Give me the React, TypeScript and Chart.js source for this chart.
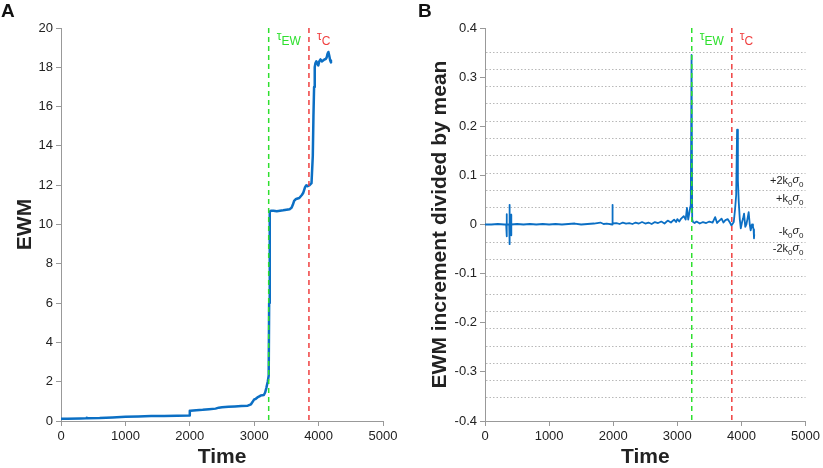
import React, { useEffect, useRef } from 'react';
import Chart from 'chart.js/auto';

// Panel A: EWM over time
const timeA = [
  0, 100, 300, 390, 400, 410, 600, 800, 1000, 1200, 1400, 1600, 1800, 1990, 2000, 2010, 2100, 2200, 2300,
  2400, 2450, 2500, 2600, 2700, 2800, 2900, 2950, 2980, 3000, 3020, 3050, 3080, 3100, 3150, 3170, 3190,
  3210, 3225, 3232, 3238, 3245, 3260, 3300, 3350, 3400, 3450, 3500, 3550, 3580, 3600, 3620, 3650, 3700,
  3740, 3760, 3790, 3810, 3830, 3860, 3890, 3910, 3920, 3930, 3940, 3950, 3965, 3980, 3995, 4010, 4030,
  4050, 4070, 4090, 4110, 4125, 4140, 4152, 4165, 4180, 4192, 4200,
];
const ewm = [
  0.12, 0.12, 0.13, 0.14, 0.17, 0.14, 0.15, 0.18, 0.21, 0.23, 0.25, 0.26, 0.27, 0.28, 0.52, 0.52, 0.55, 0.57, 0.6,
  0.63, 0.68, 0.7, 0.72, 0.74, 0.76, 0.78, 0.85, 1.0, 1.1, 1.12, 1.2, 1.25, 1.3, 1.32, 1.45, 1.7,
  2.0, 2.3, 6.0, 10.2, 10.65, 10.7, 10.7, 10.68, 10.7, 10.72, 10.75, 10.78, 10.85, 11.0, 11.2, 11.3, 11.35,
  11.5, 11.6, 11.9, 12.0, 11.95, 12.0, 12.1, 13.5, 15.5, 17.0, 18.0, 18.2, 18.3, 18.2, 18.1, 18.3, 18.4,
  18.3, 18.35, 18.4, 18.42, 18.5, 18.7, 18.78, 18.6, 18.35, 18.25, 18.22,
];

// Panel B: EWM increment divided by mean
const timeB = [
  0, 100, 200, 300, 330, 336, 339, 343, 378, 381, 384, 387, 403, 406, 409, 412, 500, 600, 700, 800, 900,
  1000, 1100, 1200, 1300, 1400, 1500, 1600, 1700, 1800, 1850, 1900, 1985, 1988, 1992, 2050, 2100, 2150,
  2200, 2250, 2300, 2350, 2400, 2450, 2500, 2550, 2600, 2650, 2700, 2750, 2800, 2850, 2900, 2950, 2980,
  3000, 3030, 3060, 3100, 3130, 3150, 3170, 3195, 3210, 3222, 3232, 3245, 3270, 3300, 3350, 3400, 3450,
  3500, 3550, 3590, 3620, 3640, 3690, 3720, 3750, 3785, 3820, 3845, 3880, 3900, 3918, 3932, 3945, 3958,
  3975, 3990, 4010, 4025, 4041, 4060, 4077, 4095, 4113, 4130, 4144, 4165, 4180, 4190, 4196, 4200,
];
const increment = [
  0, 0, 0.001, 0, 0, 0.021, -0.024, 0, 0, 0.04, -0.04, 0, 0, 0.02, -0.022, 0, 0.001, 0, 0.001, 0, 0.001,
  0, 0.001, 0, 0.001, 0.002, 0, 0.001, 0.002, 0.004, 0.001, 0.002, 0, 0.04, 0.002, 0.003, 0.001, 0.004,
  0.002, 0.003, 0.001, 0.004, 0.002, 0.005, 0.002, 0.004, 0.001, 0.005, 0.003, 0.006, 0.002, 0.008, 0.004, 0.01, 0.005,
  0.011, 0.006, 0.012, 0.017, 0.01, 0.034, 0.01, 0.03, 0.04, 0.345, 0.01, 0.005, 0.003, 0.006, 0.002, 0.005, 0.003,
  0.006, 0.004, 0.015, 0.003, 0.006, 0.012, 0.004, 0.009, 0.011, 0.004, -0.002, 0.005, 0.03, 0.06, 0.193, 0.09, 0.046,
  0.01, -0.008, 0.005, 0.012, 0.022, -0.005, 0.0, 0.012, 0.025, 0.0, -0.012, 0.0, -0.005, -0.01, -0.028, -0.02,
];

const tauTimes = [3225, 3850];
const tauNames = ['EW', 'C'];
const kSigma = 0.0352;
const kSteps = [-10, -9, -8, -7, -6, -5, -4, -3, -2, -1, 1, 2, 3, 4, 5, 6, 7, 8, 9, 10];
const kLabelPrefix = ['+2', '+', '-', '-2'];
const kLabelValues = [0.09, 0.053, -0.013, -0.048];

const FONT = '"Liberation Sans", Arial, sans-serif';
const BLUE = '#0b6fc4';
const TAU_COLORS = ['#2ee02e', '#f04040'];

const tauPlugin = {
  id: 'tauMarkers',
  afterDatasetsDraw(chart: any) {
    const { ctx, chartArea, scales } = chart;
    ctx.save();
    ctx.lineWidth = 1.5;
    ctx.setLineDash([5, 4]);
    tauTimes.forEach((t, i) => {
      const px = scales.x.getPixelForValue(t);
      ctx.strokeStyle = TAU_COLORS[i];
      ctx.beginPath();
      ctx.moveTo(px, chartArea.top);
      ctx.lineTo(px, chartArea.bottom);
      ctx.stroke();
    });
    ctx.setLineDash([]);
    ctx.textBaseline = 'alphabetic';
    ctx.textAlign = 'left';
    tauTimes.forEach((t, i) => {
      const px = scales.x.getPixelForValue(t) + 8;
      ctx.fillStyle = TAU_COLORS[i];
      ctx.font = `12px ${FONT}`;
      ctx.fillText('τ', px, chartArea.top + 12);
      const w = ctx.measureText('τ').width;
      ctx.font = `12px ${FONT}`;
      ctx.fillText(tauNames[i], px + w, chartArea.top + 17);
    });
    ctx.restore();
  },
};

const kGridPlugin = {
  id: 'kGrid',
  beforeDatasetsDraw(chart: any) {
    const { ctx, chartArea, scales } = chart;
    ctx.save();
    ctx.strokeStyle = '#b8b8b8';
    ctx.lineWidth = 1;
    ctx.setLineDash([1.5, 2]);
    kSteps.forEach((n) => {
      const py = Math.round(scales.y.getPixelForValue(n * kSigma)) + 0.5;
      ctx.beginPath();
      ctx.moveTo(chartArea.left + 1, py);
      ctx.lineTo(chartArea.right, py);
      ctx.stroke();
    });
    ctx.restore();
  },
  afterDatasetsDraw(chart: any) {
    const { ctx, chartArea, scales } = chart;
    ctx.save();
    ctx.fillStyle = '#222';
    ctx.textBaseline = 'alphabetic';
    ctx.textAlign = 'left';
    kLabelValues.forEach((v, i) => {
      const py = scales.y.getPixelForValue(v) + 4;
      const parts = [
        { t: `${kLabelPrefix[i]}k`, f: `11px ${FONT}`, dy: 0 },
        { t: '0', f: `8px ${FONT}`, dy: 3 },
        { t: 'σ', f: `italic 11px ${FONT}`, dy: -1 },
        { t: '0', f: `8px ${FONT}`, dy: 3 },
      ];
      let total = 0;
      parts.forEach((p) => {
        ctx.font = p.f;
        total += ctx.measureText(p.t).width;
      });
      let x = chartArea.right - 2 - total;
      parts.forEach((p) => {
        ctx.font = p.f;
        ctx.fillText(p.t, x, py + p.dy);
        x += ctx.measureText(p.t).width;
      });
    });
    ctx.restore();
  },
};

function axisX(width: number) {
  return {
    type: 'linear' as const,
    min: 0,
    max: 5000,
    ticks: { stepSize: 1000, color: '#222', font: { size: 13, family: FONT }, padding: 3, callback: (v: any) => String(v), maxRotation: 0 },
    grid: { drawOnChartArea: false, drawTicks: true, tickLength: 5, color: '#999' },
    border: { color: '#999' },
    title: { display: true, text: 'Time', color: '#222', font: { size: 21, weight: 'bold' as const, family: FONT, lineHeight: 1 }, padding: { top: 0, bottom: 0 } },
    afterFit: (s: any) => { s.height = width; },
  };
}

function makeChart(canvas: HTMLCanvasElement, cfg: any) {
  return new Chart(canvas, cfg);
}

export default function App() {
  const refA = useRef<HTMLCanvasElement | null>(null);
  const refB = useRef<HTMLCanvasElement | null>(null);

  useEffect(() => {
    if (!refA.current || !refB.current) return;

    const chartA = makeChart(refA.current, {
      type: 'line',
      data: {
        datasets: [{
          data: timeA.map((t, i) => ({ x: t, y: ewm[i] })),
          borderColor: BLUE,
          borderWidth: 2.5,
          pointRadius: 0,
          tension: 0,
          borderJoinStyle: 'round',
        }],
      },
      options: {
        responsive: true,
        maintainAspectRatio: false,
        animation: false,
        layout: { padding: { top: 28, right: 29, bottom: 0, left: 0 } },
        plugins: { legend: { display: false }, tooltip: { enabled: false } },
        scales: {
          x: axisX(47),
          y: {
            min: 0,
            max: 20,
            ticks: { stepSize: 2, color: '#222', font: { size: 13, family: FONT }, padding: 3 },
            grid: { drawOnChartArea: false, drawTicks: true, tickLength: 5, color: '#999' },
            border: { color: '#999' },
            title: { display: true, text: 'EWM', color: '#222', font: { size: 21, weight: 'bold', family: FONT, lineHeight: 1 }, padding: { top: 15, bottom: 0 } },
            afterFit: (s: any) => { s.width = 61; },
          },
        },
      },
      plugins: [tauPlugin],
    });

    const chartB = makeChart(refB.current, {
      type: 'line',
      data: {
        datasets: [{
          data: timeB.map((t, i) => ({ x: t, y: increment[i] })),
          borderColor: BLUE,
          borderWidth: 1.8,
          pointRadius: 0,
          tension: 0,
          borderJoinStyle: 'round',
        }],
      },
      options: {
        responsive: true,
        maintainAspectRatio: false,
        animation: false,
        layout: { padding: { top: 28, right: 15, bottom: 0, left: 0 } },
        plugins: { legend: { display: false }, tooltip: { enabled: false } },
        scales: {
          x: axisX(47),
          y: {
            min: -0.4,
            max: 0.4,
            ticks: { stepSize: 0.1, color: '#222', font: { size: 13, family: FONT }, padding: 3, callback: (v: any) => String(Math.round(v * 10) / 10) },
            grid: { drawOnChartArea: false, drawTicks: true, tickLength: 5, color: '#999' },
            border: { color: '#999' },
            title: { display: true, text: 'EWM increment divided by mean', color: '#222', font: { size: 21, weight: 'bold', family: FONT, lineHeight: 1 }, padding: { top: 18, bottom: 0 } },
            afterFit: (s: any) => { s.width = 73; },
          },
        },
      },
      plugins: [kGridPlugin, tauPlugin],
    });

    return () => {
      chartA.destroy();
      chartB.destroy();
    };
  }, []);

  return (
    <div style={{ position: 'fixed', left: 0, top: 0, width: 823, height: 468, background: '#fff', fontFamily: FONT }}>
      <div style={{ position: 'absolute', left: 0, top: 0, width: 412, height: 468 }}>
        <canvas ref={refA} />
      </div>
      <div style={{ position: 'absolute', left: 412, top: 0, width: 411, height: 468 }}>
        <canvas ref={refB} />
      </div>
      <div style={{ position: 'absolute', left: 1, top: 0, fontSize: 19, fontWeight: 'bold', color: '#111' }}>A</div>
      <div style={{ position: 'absolute', left: 418, top: 0, fontSize: 19, fontWeight: 'bold', color: '#111' }}>B</div>
    </div>
  );
}
